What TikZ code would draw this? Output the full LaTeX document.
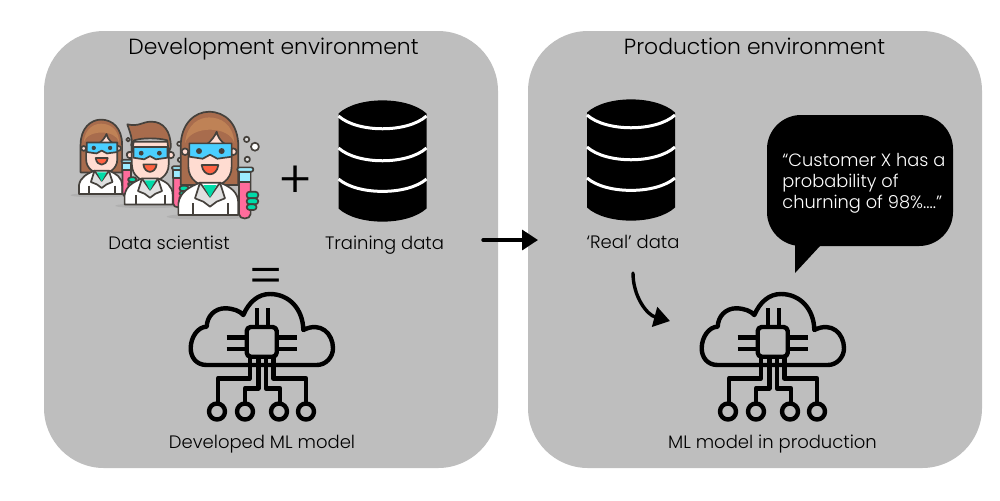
\documentclass[tikz,border=0pt]{standalone}
\usepackage{fontspec}
\setmainfont{Poppins}[UprightFont=* Light]
\usepackage{tikz}
\usetikzlibrary{arrows.meta}

\definecolor{panelgrey}{HTML}{BEBEBE}
\definecolor{sciline}{HTML}{45413C}
\definecolor{hairbrown}{HTML}{A86C4D}
\definecolor{hairlight}{HTML}{BF8256}
\definecolor{skinpink}{HTML}{FFDCD1}
\definecolor{gogglesblue}{HTML}{4ACFFF}
\definecolor{shirtgreen}{HTML}{00DBA8}
\definecolor{tubepink}{HTML}{FF6C9C}
\definecolor{tubeblue}{HTML}{9CEBFF}
\definecolor{mouthred}{HTML}{FF6242}
\definecolor{coatgrey}{HTML}{E0E0E0}
\definecolor{shadowgrey}{HTML}{B0B0B0}

\tikzset{
  panel/.style={draw=none,shape=rectangle,fill=panelgrey,rounded corners=30pt,minimum width=227pt,minimum height=218.5pt},
  labeltext/.style={font=\fontsize{9}{11}\selectfont,text=black,inner sep=0pt,anchor=base},
  titletext/.style={font=\fontsize{10.95}{13}\selectfont,text=black,inner sep=0pt,anchor=base},
  signtext/.style={font=\fontsize{26}{26}\selectfont,text=black,inner sep=0pt},
  flowarrow/.style={line width=1.7pt,line cap=round,-{Triangle[length=8pt,width=10pt]}},
  sciedge/.style={draw=sciline,line width=0.85pt,line join=round},
  pics/database/.style={code={
    \fill[black](-44,-46).. controls (-25,-63.5) and (25,-63.5) ..(44,-46)--(44,49).. controls (25,66.5) and (-25,66.5) ..(-44,49)--cycle;
    \draw[white,line width=1.5pt](-44,-43.5).. controls (-25,-26.5) and (25,-26.5) ..(44,-43.5);
    \draw[white,line width=1.5pt](-44,-11.5).. controls (-25,5.5) and (25,5.5) ..(44,-11.5);
    \draw[white,line width=1.5pt](-44,19.5).. controls (-25,36) and (25,36) ..(44,19.5);
  }},
  pics/mlcloud/.style={code={
    \begin{scope}[line width=2.2pt,draw=black,line join=round]
    \draw(-54.3,23).. controls (-65,23) and (-70.3,15) ..(-70.3,6.3).. controls (-70.3,-5) and (-63,-15.3) ..(-54.3,-15.3).. controls (-54,-26) and (-46,-33.7) ..(-36,-33.7).. controls (-28,-33.7) and (-21,-31) ..(-17.7,-27).. controls (-12,-40) and (-3,-48) ..(9,-48).. controls (28,-48) and (42,-33) ..(42.3,-12).. controls (60,-21) and (72,-8) ..(72,6.3).. controls (72,15) and (65,23) ..(55.7,23)--cycle;
    \draw[fill=panelgrey,rounded corners=2pt](-14.3,-15)rectangle(15.7,14.7);
    \foreach \px in {-4.3,6.7}{\draw(\px,-33.7)--(\px,-15);}
    \foreach \py in {-4.7,7}{
      \draw(-34.3,\py)--(-14.3,\py);
      \draw(15.7,\py)--(35.7,\py);
    }
    \draw(-11,14.7)--(-11,36.3)--(-43,36.3)--(-43,61);
    \draw(-2.7,14.7)--(-2.7,46.3)--(-16,46.3)--(-16,61);
    \draw(4.7,14.7)--(4.7,46.3)--(19,46.3)--(19,61);
    \draw(12.3,14.7)--(12.3,36.3)--(45,36.3)--(45,61);
    \foreach \cx/\cy in {-44/69.5,-16/69.5,18/69.5,45/69.5}{\draw(\cx,\cy)circle(4pt);}
    \end{scope}
  }},
  pics/womanlab/.style={code={
    \scibubbles
    \scishadow
    \draw[sciedge,fill=hairbrown](-88,85)--(-88,-30).. controls (-88,-100) and (-45,-135) ..(-3,-135).. controls (45,-135) and (85,-100) ..(85,-30)--(85,85)--cycle;
    \fill[hairlight](-75,-40).. controls (-70,-100) and (-30,-118) ..(-3,-118).. controls (30,-118) and (70,-100) ..(73,-40).. controls (60,-95) and (-60,-95) ..(-75,-40)--cycle;
    \draw[sciedge,fill=skinpink](-75,-15)circle(10);
    \draw[sciedge,fill=skinpink](70,-15)circle(10);
    \draw[sciedge,fill=skinpink](-65,-10).. controls (-20,-20) and (10,-50) ..(20,-75).. controls (25,-50) and (45,-35) ..(65,-25)--(65,30).. controls (65,70) and (30,90) ..(0,90).. controls (-30,90) and (-65,70) ..(-65,30)--cycle;
    \scigoggles
    \scicoat
    \scitube
  }},
  pics/manlab/.style={code={
    \scibubbles
    \scishadow
    \draw[sciedge,fill=skinpink](-75,-10)circle(12);
    \draw[sciedge,fill=skinpink](78,-10)circle(12);
    \draw[sciedge,fill=skinpink](-68,-60)--(-68,25).. controls (-68,70) and (-30,90) ..(0,90).. controls (30,90) and (70,70) ..(70,25)--(70,-60)--cycle;
    \draw[sciedge,fill=hairbrown](-68,-20)--(-68,-65).. controls (-70,-85) and (-80,-110) ..(-85,-125).. controls (-40,-115) and (-30,-135) ..(5,-135).. controls (50,-135) and (78,-100) ..(78,-40)--(70,-20)--(65,-65).. controls (30,-75) and (-30,-75) ..(-60,-65)--cycle;
    \scigoggles
    \scicoat
    \scitube
  }},
}

% parts that the lab people share
\newcommand{\scibubbles}{
  \draw[sciedge,fill=coatgrey](110,-52)circle(8);
  \draw[sciedge,fill=white](135,-30)circle(12);
  \draw[sciedge,fill=coatgrey](112,8)circle(8);
}
\newcommand{\scishadow}{
  \fill[shadowgrey](-10,180)ellipse[x radius=120,y radius=9];
}
\newcommand{\scigoggles}{
  \draw[sciedge,fill=gogglesblue](-62,-40)--(65,-40)--(65,0)--(22,6)--(0,-6)--(-22,6)--(-62,0)--cycle;
  \fill[sciline](-33,-17)circle(9);
  \fill[sciline](35,-17)circle(9);
  \draw[sciedge,fill=mouthred](-25,25).. controls (-20,62) and (20,62) ..(25,25)--cycle;
}
\newcommand{\scicoat}{
  \draw[sciedge,fill=white](-95,175)--(-95,140).. controls (-90,105) and (-60,90) ..(-30,78)--(30,78).. controls (60,90) and (85,105) ..(85,140)--(85,175)--cycle;
  \draw[sciedge,fill=coatgrey](-30,78)--(-45,125)--(-20,135)--(0,150)--(20,135)--(45,125)--(30,78)--(0,120)--cycle;
  \fill[shirtgreen](-20,85)--(20,85)--(0,122)--cycle;
  \draw[sciedge](-52,140)--(-52,175);
  \draw[sciedge](55,140)--(55,175);
}
\newcommand{\scitube}{
  \draw[sciedge,fill=tubepink](87,40)--(122,40)--(122,172)..controls (122,190) and (87,190) ..(87,172)--cycle;
  \draw[sciedge,fill=tubeblue](87,45)rectangle(122,75);
  \draw[sciedge,fill=tubeblue,rounded corners=1pt](82,32)rectangle(130,45);
  \draw[sciedge,fill=shirtgreen,rounded corners=1.5pt](110,105)rectangle(145,125);
  \draw[sciedge,fill=shirtgreen,rounded corners=1.5pt](110,125)rectangle(145,143);
  \draw[sciedge,fill=shirtgreen,rounded corners=1.5pt](110,143)rectangle(140,160);
}

\begin{document}
\begin{tikzpicture}[x=0.5pt,y=-0.5pt]
  \useasboundingbox(0,0)rectangle(1000,500);

  \node[panel](n1)at(271,249.5){};
  \node[panel](n2)at(755,249.5){};

  \node[titletext](n3)at(273.5,54.5){Development environment};
  \node[titletext](n4)at(754.5,54.5){Production environment};

  % lab people, back to front
  \pic[scale=0.24](s1)at(101.7,152){womanlab};
  \pic[scale=0.267](s2)at(150,157.7){manlab};
  \pic[scale=0.333](s3)at(210,156.7){womanlab};

  \node[labeltext](n5)at(169,249){Data scientist};
  \node[signtext](n6)at(296,182){+};
  \pic(d1)at(382.5,159.5){database};
  \node[labeltext](n7)at(384.5,249){Training data};
  \node[signtext](n8)at(266,281){=};

  \pic(m1)at(261,342){mlcloud};
  \node[labeltext](n9)at(262,448){Developed ML model};

  \pic(d2)at(631,158.5){database};
  \node[labeltext](n10)at(633,248.5){`Real' data};

  \pic(m2)at(772,342){mlcloud};
  \node[labeltext](n11)at(772.5,448){ML model in production};

  % speech bubble
  \node[shape=rectangle,fill=black,rounded corners=17pt,minimum width=93pt,minimum height=65.5pt](n12)at(860,180.5){};
  \fill[black](795,240)--(820,246)--(795,273)--cycle;
  \node[labeltext,text=white,align=left,anchor=west,font=\fontsize{8.9}{10.4}\selectfont](n13)at(782,183.5){``Customer X has a\\probability of\\churning of 98\%....''};

  \coordinate(c1)at(483,240);
  \coordinate(c2)at(538,240);
  \coordinate(c3)at(633,273);
  \coordinate(c4)at(670,321);
  \draw[flowarrow](c1)to[](c2);
  \draw[flowarrow](c3)to[out=-90,in=165](c4);
\end{tikzpicture}
\end{document}
